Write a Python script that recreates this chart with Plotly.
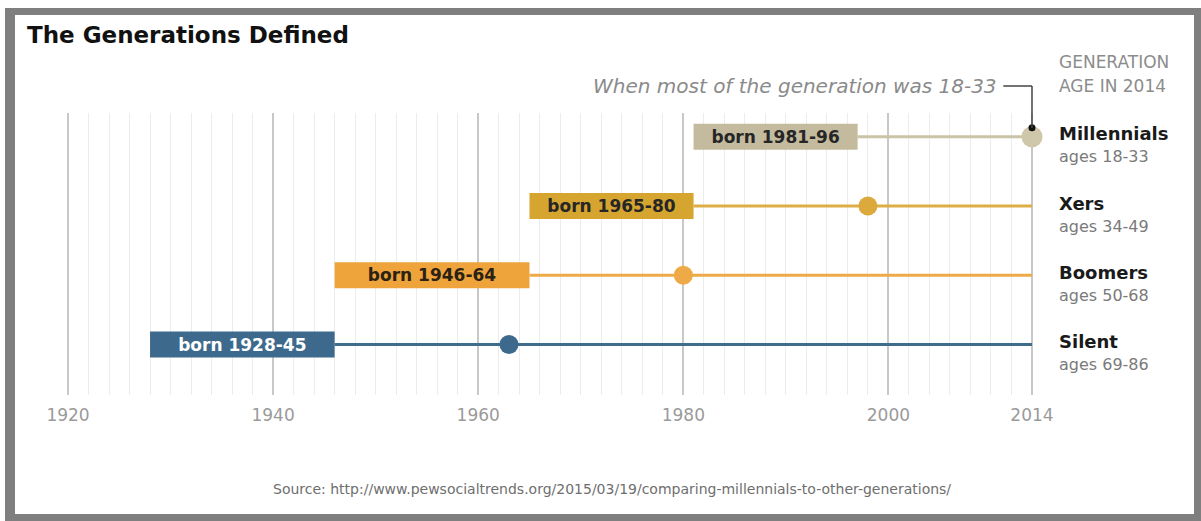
import plotly.graph_objects as go

# ---------------- data ----------------
generations = ["Millennials", "Xers", "Boomers", "Silent"]
birth_start = [1981, 1965, 1946, 1928]
birth_end = [1996, 1980, 1964, 1945]
born_labels = ["born 1981-96", "born 1965-80", "born 1946-64", "born 1928-45"]
age_labels = ["ages 18-33", "ages 34-49", "ages 50-68", "ages 69-86"]
year_18_33 = [2014, 1998, 1980, 1963]
row_pos = [3, 2, 1, 0]
survey_year = 2014
tick_years = [1920, 1940, 1960, 1980, 2000, 2014]
tick_labels = ["1920", "1940", "1960", "1980", "2000", "2014"]
minor_years = [y for y in range(1922, 2014, 2) if y not in tick_years]

# ---------------- styles ----------------
W, H = 1201, 521
FONT = "DejaVu Sans"
box_colors = ["#c4bb9f", "#d6a530", "#eea43a", "#3d6a8c"]
line_colors = ["#cbc3a7", "#dcae45", "#efaa48", "#3f6b8c"]
dot_colors = ["#cfc7aa", "#dba93c", "#eeaa46", "#3d6a8c"]
dot_sizes = [21, 19, 19, 19]
text_colors = ["#262626", "#262626", "#2b2114", "#ffffff"]


def px_x(p):
    return p / W


def px_y(p):
    return 1 - p / H


fig = go.Figure()

# boxes (birth ranges)
fig.add_trace(go.Bar(
    orientation="h",
    y=row_pos,
    x=[e + 1 - s for s, e in zip(birth_start, birth_end)],
    base=birth_start,
    width=0.375,
    marker=dict(color=box_colors, line=dict(width=0)),
    text=born_labels,
    textposition="inside",
    insidetextanchor="middle",
    textangle=0,
    textfont=dict(family=FONT, size=17, color=text_colors, weight="bold"),
    hoverinfo="skip",
))

# lines from end of birth range to 2014
for i in range(len(generations)):
    fig.add_trace(go.Scatter(
        x=[birth_end[i] + 1, survey_year],
        y=[row_pos[i], row_pos[i]],
        mode="lines",
        line=dict(color=line_colors[i], width=3),
        hoverinfo="skip",
    ))

# dots: when most of the generation was 18-33
fig.add_trace(go.Scatter(
    x=year_18_33,
    y=row_pos,
    mode="markers",
    marker=dict(color=dot_colors, size=dot_sizes, opacity=1, line=dict(width=0)),
    cliponaxis=False,
    hoverinfo="skip",
))

# small black leader dot on top of Millennials dot
fig.add_trace(go.Scatter(
    x=[survey_year],
    y=[row_pos[0] + 0.13],
    mode="markers",
    marker=dict(color="#111111", size=7, opacity=1),
    cliponaxis=False,
    hoverinfo="skip",
))

annotations = []
# title
annotations.append(dict(
    text="<b>The Generations Defined</b>", xref="paper", yref="paper",
    x=px_x(25), y=px_y(35), xanchor="left", yanchor="middle", showarrow=False,
    font=dict(family=FONT, size=23, color="#111111")))
# leader text
annotations.append(dict(
    text="<i>When most of the generation was 18-33</i>", xref="paper", yref="paper",
    x=px_x(999), y=px_y(86), xanchor="right", yanchor="middle", showarrow=False,
    font=dict(family=FONT, size=20, color="#8a8a8a")))
# header on right
annotations.append(dict(
    text="GENERATION", xref="paper", yref="paper",
    x=px_x(1057), y=px_y(62), xanchor="left", yanchor="middle", showarrow=False,
    font=dict(family=FONT, size=17, color="#8c8c8c")))
annotations.append(dict(
    text="AGE IN 2014", xref="paper", yref="paper",
    x=px_x(1057), y=px_y(86), xanchor="left", yanchor="middle", showarrow=False,
    font=dict(family=FONT, size=17, color="#8c8c8c")))
# generation names and ages
for i in range(len(generations)):
    annotations.append(dict(
        text="<b>" + generations[i] + "</b>", xref="paper", yref="y",
        x=px_x(1057), y=row_pos[i], yshift=3, xanchor="left", yanchor="middle",
        showarrow=False, font=dict(family=FONT, size=18, color="#1a1a1a")))
    annotations.append(dict(
        text=age_labels[i], xref="paper", yref="y",
        x=px_x(1057), y=row_pos[i], yshift=-20, xanchor="left", yanchor="middle",
        showarrow=False, font=dict(family=FONT, size=16, color="#7a7a7a")))
# source
annotations.append(dict(
    text="Source: http://www.pewsocialtrends.org/2015/03/19/comparing-millennials-to-other-generations/",
    xref="paper", yref="paper", x=px_x(612), y=px_y(489), xanchor="center", yanchor="middle",
    showarrow=False, font=dict(family=FONT, size=14, color="#6e6e6e")))

shapes = [
    # outer frame
    dict(type="rect", xref="paper", yref="paper", x0=px_x(5), x1=1, y0=0, y1=px_y(8),
         fillcolor="#7f7f7f", line=dict(width=0), layer="below"),
    dict(type="rect", xref="paper", yref="paper", x0=px_x(15), x1=px_x(1194), y0=px_y(514), y1=px_y(15),
         fillcolor="#ffffff", line=dict(width=0), layer="below"),
    # leader line
    dict(type="line", xref="x", yref="paper", x0=2011.2, x1=survey_year, y0=px_y(86), y1=px_y(86),
         line=dict(color="#444444", width=1.5), layer="above"),
    dict(type="line", xref="x", yref="paper", x0=survey_year, x1=survey_year, y0=px_y(86), y1=px_y(128),
         line=dict(color="#444444", width=1.5), layer="above"),
]

fig.update_layout(
    width=W, height=H,
    margin=dict(l=0, r=0, t=0, b=0, pad=0),
    paper_bgcolor="#ffffff",
    plot_bgcolor="rgba(0,0,0,0)",
    showlegend=False,
    font=dict(family=FONT),
    uniformtext=dict(minsize=17, mode="show"),
    annotations=annotations,
    shapes=shapes,
    xaxis=dict(
        domain=[0, 1],
        range=[1913.369, 2030.48],
        tickmode="array", tickvals=tick_years, ticktext=tick_labels,
        showgrid=True, gridcolor="#c8c8c8", gridwidth=1.5,
        minor=dict(tickmode="array", tickvals=minor_years, showgrid=True,
                   gridcolor="#ececec", gridwidth=1),
        zeroline=False, showline=False, ticks="",
        tickfont=dict(family=FONT, size=17, color="#9a9a9a"),
        ticklabelstandoff=8,
        automargin=False, fixedrange=True,
    ),
    yaxis=dict(
        domain=[1 - 395 / H, 1 - 113 / H],
        range=[-0.729, 3.343],
        showgrid=False, zeroline=False, showticklabels=False,
        automargin=False, fixedrange=True,
    ),
)

fig.write_html("out.html")
